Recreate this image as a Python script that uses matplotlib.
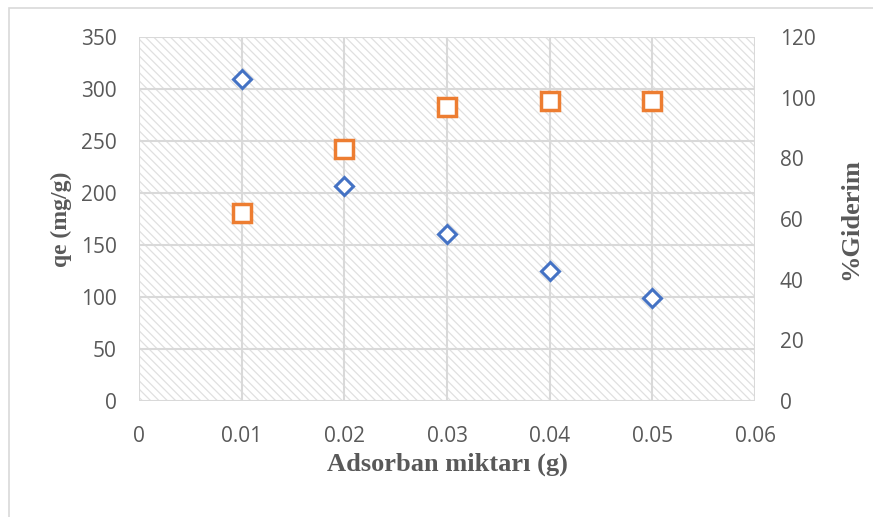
"""
Adsorbent dose vs qe and % removal, dual axis scatter.
"""
import matplotlib
matplotlib.use("Agg")
import matplotlib.pyplot as plt
from matplotlib.patches import Rectangle

# data
dose = [0.01, 0.02, 0.03, 0.04, 0.05]
qe = [310, 207, 161, 125, 99]
removal = [62.0, 83.0, 97.0, 99.0, 99.0]

x_ticks = [0, 0.01, 0.02, 0.03, 0.04, 0.05, 0.06]
x_labels = ["0", "0.01", "0.02", "0.03", "0.04", "0.05", "0.06"]
left_ticks = list(range(0, 351, 50))
right_ticks = list(range(0, 121, 20))

W, H = 873, 517
TICK_COLOR = "#595959"
GRID_COLOR = "#d9d9d9"

plt.rcParams["hatch.linewidth"] = 0.9

fig = plt.figure(figsize=(W / 100, H / 100), dpi=100)
ax = fig.add_axes([139 / W, 1 - 401 / H, (755 - 139) / W, (401 - 37) / H])
ax2 = ax.twinx()

# chart border (left/top visible only)
fig.add_artist(Rectangle((9 / W, -0.1), 1.2, 1 - 8 / H + 0.1, transform=fig.transFigure,
                         fill=False, edgecolor="#d9d9d9", linewidth=1.2))

# hatched plot area
ax.add_patch(Rectangle((0, 0), 1, 1, transform=ax.transAxes, facecolor="white",
                       hatch="\\\\\\\\", edgecolor="#e0e0e0", linewidth=0, zorder=0))

ax.set_xlim(0, 0.06)
ax.set_ylim(0, 350)
ax2.set_ylim(0, 120)
ax.set_xticks(x_ticks)
ax.set_xticklabels(x_labels)
ax.set_yticks(left_ticks)
ax2.set_yticks(right_ticks)

ax.grid(True, color=GRID_COLOR, linewidth=1.5, zorder=1)
ax.set_axisbelow(True)
for a in (ax, ax2):
    for s in a.spines.values():
        s.set_visible(False)
    a.tick_params(length=0, labelsize=15, colors=TICK_COLOR)
ax.tick_params(axis="x", pad=18)
ax.tick_params(axis="y", pad=16)
ax2.tick_params(axis="y", pad=18)
for lbl in ax.get_xticklabels() + ax.get_yticklabels() + ax2.get_yticklabels():
    lbl.set_fontfamily("Open Sans")

ax.plot(dose, qe, linestyle="none", marker="D", markersize=9.5, markerfacecolor="white",
        markeredgecolor="#4472c4", markeredgewidth=2.2, zorder=3, clip_on=False)
ax2.plot(dose, removal, linestyle="none", marker="s", markersize=13, markerfacecolor="white",
         markeredgecolor="#ed7d31", markeredgewidth=2.5, zorder=3, clip_on=False)

label_font = dict(family="Liberation Serif", fontweight="bold", color=TICK_COLOR)
ax.set_xlabel("Adsorban miktarı (g)", labelpad=4, fontsize=19, **label_font)
fig.text(61 / W, 1 - 219 / H, "qe (mg/g)", rotation=90, ha="center", va="center",
         fontsize=17, **label_font)
ax2.set_ylabel("%Giderim", labelpad=17, fontsize=19, **label_font)

plt.savefig("out.png", dpi=100)
plt.close()
